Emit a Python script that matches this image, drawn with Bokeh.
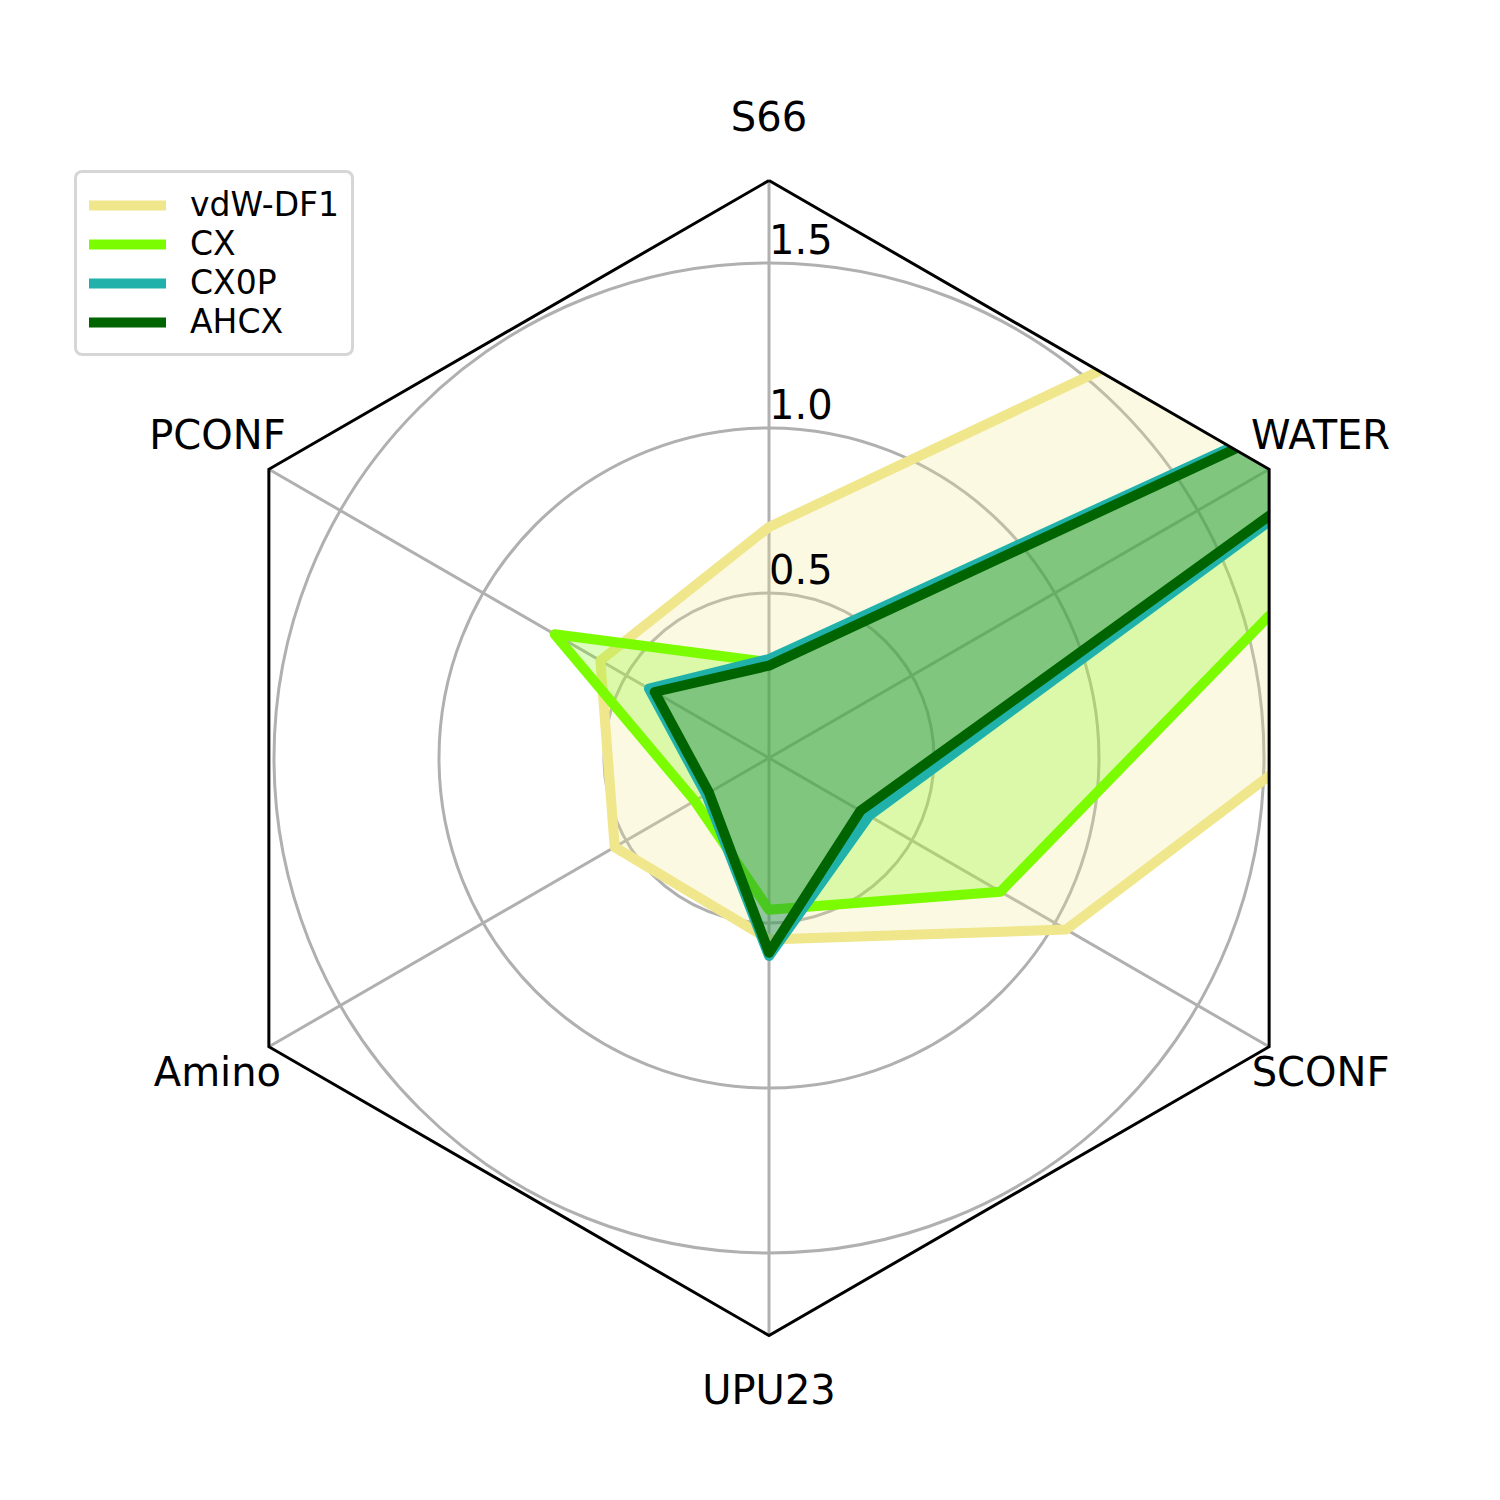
import numpy as np
from bokeh.plotting import figure
from bokeh.models import Range1d, Legend, LegendItem
from bokeh.core.properties import value
from bokeh.embed import file_html
from bokeh.resources import INLINE

# ---------------- data ----------------
categories = ["S66", "PCONF", "Amino", "UPU23", "SCONF", "WATER"]
series_names = ["vdW-DF1", "CX", "CX0P", "AHCX"]
vdw_df1 = [0.70, 0.59, 0.54, 0.55, 1.04, 7.7]
cx = [0.29, 0.75, 0.26, 0.46, 0.81, 2.89]
cx0p = [0.30, 0.42, 0.22, 0.60, 0.35, 2.90]
ahcx = [0.28, 0.40, 0.21, 0.59, 0.32, 2.88]
r_ticks = [0.5, 1.0, 1.5]
tick_labels = ["0.5", "1.0", "1.5"]
r_max = 1.75

series_values = [vdw_df1, cx, cx0p, ahcx]
colors = ["#F0E68C", "#7CFC00", "#20B2AA", "#006400"]

# ---------------- geometry helpers ----------------
N = len(categories)
theta = np.pi / 2 + np.arange(N) * 2 * np.pi / N  # counter-clockwise from top

hexagon = [(r_max * np.cos(t), r_max * np.sin(t)) for t in theta]  # CCW


def inside(p, a, b):
    return (b[0] - a[0]) * (p[1] - a[1]) - (b[1] - a[1]) * (p[0] - a[0]) >= 0


def intersect(p, q, a, b):
    x1, y1 = p
    x2, y2 = q
    x3, y3 = a
    x4, y4 = b
    den = (x1 - x2) * (y3 - y4) - (y1 - y2) * (x3 - x4)
    t = ((x1 - x3) * (y3 - y4) - (y1 - y3) * (x3 - x4)) / den
    return (x1 + t * (x2 - x1), y1 + t * (y2 - y1))


def clip_polygon(subject, clip):
    out = list(subject)
    for i in range(len(clip)):
        a, b = clip[i], clip[(i + 1) % len(clip)]
        inp, out = out, []
        if not inp:
            break
        s = inp[-1]
        for e in inp:
            if inside(e, a, b):
                if not inside(s, a, b):
                    out.append(intersect(s, e, a, b))
                out.append(e)
            elif inside(s, a, b):
                out.append(intersect(s, e, a, b))
            s = e
    return out


def clip_segment(p0, p1, clip):
    dx, dy = p1[0] - p0[0], p1[1] - p0[1]
    tE, tL = 0.0, 1.0
    n = len(clip)
    for i in range(n):
        a, b = clip[i], clip[(i + 1) % n]
        ex, ey = b[0] - a[0], b[1] - a[1]
        num = ex * (p0[1] - a[1]) - ey * (p0[0] - a[0])
        den = ex * dy - ey * dx
        if abs(den) < 1e-12:
            if num < 0:
                return None
            continue
        t = -num / den
        if den > 0:
            tE = max(tE, t)
        else:
            tL = min(tL, t)
        if tE > tL:
            return None
    return ((p0[0] + tE * dx, p0[1] + tE * dy), (p0[0] + tL * dx, p0[1] + tL * dy))


def close(p, q):
    return abs(p[0] - q[0]) < 1e-9 and abs(p[1] - q[1]) < 1e-9


def clip_ring(pts, clip):
    n = len(pts)
    lines = []
    cur = None
    for i in range(n):
        piece = clip_segment(pts[i], pts[(i + 1) % n], clip)
        if piece is None:
            cur = None
            continue
        if cur is not None and close(cur[-1], piece[0]):
            cur.append(piece[1])
        else:
            cur = [piece[0], piece[1]]
            lines.append(cur)
    if len(lines) > 1 and close(lines[-1][-1], lines[0][0]):
        lines[0] = lines[-1] + lines[0][1:]
        lines.pop()
    return lines


# ---------------- figure ----------------
W = H = 1484
S = 330.0                     # pixels per data unit
cx_px, cy_px = 768.5, 757.5   # centre of the radar in figure pixels
p = figure(width=W, height=H,
           x_range=Range1d(-cx_px / S, (W - cx_px) / S),
           y_range=Range1d(-(H - cy_px) / S, cy_px / S),
           x_axis_type=None, y_axis_type=None,
           toolbar_location=None, output_backend="svg", min_border=0)
p.outline_line_color = None
p.background_fill_color = "white"
p.border_fill_color = "white"

grid_color = "#b0b0b0"
# grid circles
p.circle(x=[0] * len(r_ticks), y=[0] * len(r_ticks), radius=r_ticks,
         fill_color=None, line_color=grid_color, line_width=3)
# spokes
p.segment(x0=[0] * N, y0=[0] * N,
          x1=[h[0] for h in hexagon], y1=[h[1] for h in hexagon],
          line_color=grid_color, line_width=3)

# data
line_renderers = []
for vals, col in zip(series_values, colors):
    pts = [(v * np.cos(t), v * np.sin(t)) for v, t in zip(vals, theta)]
    lines = clip_ring(pts, hexagon)
    lr = p.multi_line(xs=[[q[0] for q in l] for l in lines],
                      ys=[[q[1] for q in l] for l in lines],
                      line_color=col, line_width=10, line_join="round", line_cap="round")
    line_renderers.append(lr)
    poly = clip_polygon(pts, hexagon)
    p.patch(x=[q[0] for q in poly], y=[q[1] for q in poly],
            fill_color=col, fill_alpha=0.25, line_color=None)

# white mask outside the hexagon (clip path)
big = 10.0
outer_x = [-big, big, big, -big]
outer_y = [-big, -big, big, big]
p.multi_polygons(xs=[[[outer_x, [h[0] for h in hexagon]]]],
                 ys=[[[outer_y, [h[1] for h in hexagon]]]],
                 fill_color="white", line_color=None)

# hexagon frame
p.line(x=[h[0] for h in hexagon] + [hexagon[0][0]],
       y=[h[1] for h in hexagon] + [hexagon[0][1]],
       line_color="black", line_width=3, line_join="miter")

# radial tick labels
p.text(x=[0.0] * len(r_ticks), y=[r + 24.5 / S for r in r_ticks], text=tick_labels,
       text_font=value("DejaVu Sans"), text_font_size="40px", text_color="black",
       text_align="left", text_baseline="alphabetic")

# category labels
R_lab = 1.93
p.text(x=[R_lab * np.cos(t) for t in theta],
       y=[R_lab * np.sin(t) + 4.5 / S for t in theta],
       text=categories, text_font=value("DejaVu Sans"), text_font_size="40px",
       text_color="black", text_align="center", text_baseline="middle")

# legend
items = [LegendItem(label=nm, renderers=[r]) for nm, r in zip(series_names, line_renderers)]
legend = Legend(items=items, location=(74, 1128), margin=0, padding=12, spacing=0,
                glyph_width=77, glyph_height=36, label_height=36, label_standoff=24,
                label_text_font="DejaVu Sans", label_text_font_size="33px",
                label_text_color="black",
                border_line_color="#cccccc", border_line_alpha=0.8, border_line_width=3,
                background_fill_color="white", background_fill_alpha=0.8)
try:
    legend.border_radius = 8
except Exception:
    pass
p.add_layout(legend)

open("out.html", "w").write(file_html(p, INLINE))
